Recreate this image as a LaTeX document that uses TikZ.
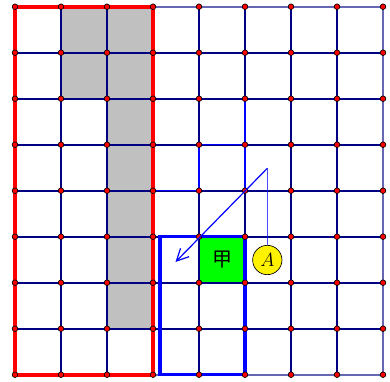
\documentclass[tikz,border=0pt]{standalone}
\usepackage{xcolor}
\usepackage{fontspec}
\newfontfamily\cjkfont{Noto Sans CJK SC}
\usepackage{tikz}
\usetikzlibrary{arrows.meta}

\definecolor{gridnavy}{RGB}{0,0,128}
\definecolor{cellgray}{RGB}{192,192,192}
\definecolor{cellgreen}{RGB}{0,255,0}

\tikzset{
	gridline/.style={color=gridnavy, line width=1.3},
	edgeline/.style={color=gridnavy, draw opacity=0.6, line width=1.3},
	pathline/.style={color=blue, line width=0.9},
	gridpoint/.style={fill=red, draw=black, line width=0.5}
}

\begin{document}
\begin{tikzpicture}[x=0.75pt,y=0.75pt,yscale=-1,xscale=1]
		\useasboundingbox (0,0) rectangle (390,382);
		
		%Shape: Rectangle [gray cells] 
		\fill  [color=cellgray] (61,6.7) rectangle (107,98.7) ;
		\fill  [color=cellgray] (107,6.7) rectangle (153,328.7) ;
		%Shape: Rectangle [green cell] 
		\fill  [color=cellgreen] (199,236.7) rectangle (245,282.7) ;
		
		%Straight Lines [grid] 
		\foreach \i in {1,...,7}{
			\draw  [gridline] (15+46*\i,6.7) -- (15+46*\i,374.7) ;
			\draw  [gridline] (15,6.7+46*\i) -- (383,6.7+46*\i) ;
		}
		%Straight Lines [outer edges] 
		\draw  [edgeline] (15,6.7) -- (383,6.7) -- (383,374.7) -- (15,374.7) ;
		
		%Straight Lines [blue steps] 
		\draw  [pathline] (153,190.7) -- (199,190.7) -- (199,144.7) -- (245,144.7) ;
		\draw  [pathline] (245,98.7) -- (245,190.7) ;
		
		%Shape: Rectangle [red frame] 
		\draw  [color=red, line width=3] (15,6.7) rectangle (153,374.7) ;
		%Shape: Rectangle [blue frame] 
		\draw  [color=blue, line width=2.6] (160,236.7) -- (245,236.7) -- (245,374.7) -- (160,374.7) -- cycle ;
		
		%Shape: Circle [grid points] 
		\foreach \i in {0,...,8}{
			\foreach \j in {0,...,8}{
				\filldraw  [gridpoint] (15+46*\i,6.7+46*\j) circle (2.8) ;
			}
		}
		
		% Text Node
		\node (jia) at (222,259.7) [inner sep=0.75pt] [font=\fontsize{15}{15}\selectfont\cjkfont] {甲};
		% Circle Node
		\node (A) at (267.3,260) [circle, draw=black, line width=0.5, fill=yellow, minimum size=22pt, inner sep=0pt] [font=\fontsize{15}{15}\selectfont] {$A$};
		
		%Straight Lines [arrow] 
		\coordinate (apex) at (267.3,168.3) ;
		\coordinate (tip) at (175.5,262) ;
		\draw  [pathline, draw opacity=0.7] (A) -- (apex) ;
		\draw  [pathline, -{Straight Barb[length=9pt, width=9pt]}] (apex) -- (tip) ;
		
	\end{tikzpicture}
\end{document}
